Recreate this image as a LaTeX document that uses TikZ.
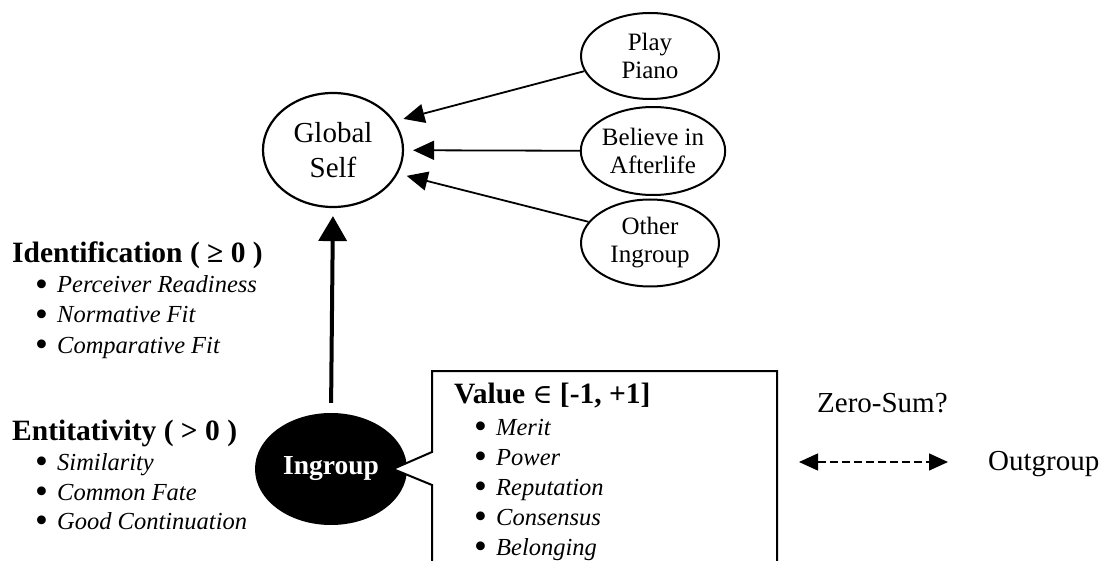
\documentclass[tikz,border=0pt]{standalone}
\usepackage{fontspec}
\setmainfont{Liberation Serif}
\newfontfamily\symfont{DejaVu Serif}
\usetikzlibrary{arrows.meta,shapes.geometric}

\begin{document}
\begin{tikzpicture}[
  x=1pt, y=-1pt,
  bubble/.style={draw, ellipse, line width=2.2pt, inner sep=0pt, align=center},
  small/.style={bubble, line width=2pt, font=\fontsize{25}{28}\selectfont},
  head/.style={anchor=base west, inner sep=0pt, font=\fontsize{29.5}{30}\selectfont\bfseries},
  item/.style={anchor=base west, inner sep=0pt, font=\fontsize{24.5}{30}\selectfont\itshape},
  plain/.style={anchor=base west, inner sep=0pt, font=\fontsize{29}{30}\selectfont},
  arr/.style={-{Triangle[length=21pt, width=19pt]}, line width=1.8pt, shorten >=9pt},
  bigarr/.style={-{Triangle[length=25pt, width=28pt]}, line width=4pt},
  dasharr/.style={{Triangle[length=19pt, width=17pt]}-{Triangle[length=19pt, width=17pt]},
    line width=1.4pt, dash pattern=on 8pt off 4pt}
]
\useasboundingbox (0,0) rectangle (1106,561);
\newcommand{\bul}{\makebox[22pt][l]{\upshape\raisebox{-0.13em}{\scalebox{1.5}{\textbullet}}}}

% self and its parts
\node[bubble, minimum width=140pt, minimum height=114pt,
  font=\fontsize{29}{35}\selectfont] (self) at (333,150) {Global\\Self};
\node[small, minimum width=138pt, minimum height=86pt] (piano) at (650,56) {Play\\Piano};
\node[small, minimum width=131pt, minimum height=88pt] (after) at (653,151) {Believe in\\Afterlife};
\node[small, minimum width=138pt, minimum height=87pt] (other) at (650,243) {Other\\Ingroup};

\draw[arr] (piano.193) -- (self.25);
\draw[arr] (after) -- (self);
\draw[arr] (other.161) -- (self.-20);

% ingroup
\node[ellipse, fill=black, inner sep=0pt, minimum width=152pt, minimum height=112pt,
  text=white, font=\fontsize{27.5}{30}\selectfont\bfseries] (ingroup) at (331,469) {Ingroup};
\draw[bigarr, shorten <=10pt, shorten >=8pt] (ingroup.north) -- (self.south);

% value box
\coordinate (tip) at (393,469);
\filldraw[fill=white, line width=2pt] (432,563) -- (432,485) -- (tip) -- (432,452)
  -- (432,371) -- (777,371) -- (777,563);
\node[head] (value) at (454,403) {Value {\mdseries\symfont\fontsize{27}{30}\selectfont ∈} [-1, +1]};
\node[item] (merit) at (474,435) {\bul Merit};
\node[item] (power) at (474,465) {\bul Power};
\node[item] (reput) at (474,495) {\bul Reputation};
\node[item] (consen) at (474,525) {\bul Consensus};
\node[item] (belong) at (474,555) {\bul Belonging};

% identification
\node[head] (ident) at (12,263) {Identification ( ≥ 0 )};
\node[item] (perc) at (35,293) {\bul Perceiver Readiness};
\node[item] (norm) at (35,323) {\bul Normative Fit};
\node[item] (comp) at (35,353) {\bul Comparative Fit};

% entitativity
\node[head] (entit) at (12,440) {Entitativity ( > 0 )};
\node[item] (simil) at (35,470) {\bul Similarity};
\node[item] (fate) at (35,500) {\bul Common Fate};
\node[item] (contin) at (35,529) {\bul Good Continuation};

% outgroup
\node[plain] (zero) at (817,412) {Zero-Sum?};
\node[plain] (outgroup) at (988,470) {Outgroup};
\coordinate (zsl) at (799,462);
\coordinate (zsr) at (948,462);
\draw[dasharr] (zsl) -- (zsr);

\end{tikzpicture}
\end{document}
